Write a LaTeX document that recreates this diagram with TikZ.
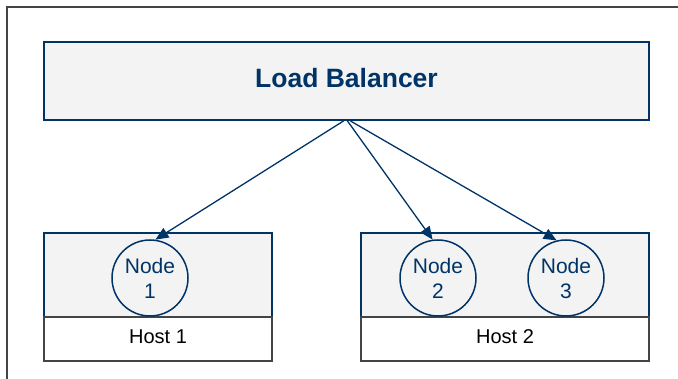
\documentclass[tikz,border=0pt]{standalone}
\usepackage{fontspec}
\setmainfont{Liberation Sans}
\usetikzlibrary{arrows.meta}
\definecolor{navy}{RGB}{0,51,102}
\definecolor{boxfill}{RGB}{243,243,243}
\definecolor{framegray}{RGB}{68,68,68}
\begin{document}
\begin{tikzpicture}[x=1pt,y=-1pt,
  lbbox/.style={draw=navy,line width=2pt,fill=boxfill,inner sep=0pt,
    minimum width=605pt,minimum height=78pt,text=navy,
    font=\fontsize{26.5}{30}\selectfont\bfseries,text depth=7pt},
  hostbox/.style={draw=navy,line width=1.5pt,fill=boxfill,inner sep=0pt,minimum height=84pt},
  labelbox/.style={draw=framegray,line width=1.5pt,fill=white,inner sep=0pt,minimum height=44pt,
    font=\fontsize{20}{23}\selectfont,text depth=5pt},
  vm/.style={circle,draw=navy,line width=1.5pt,fill=boxfill,minimum size=76pt,inner sep=0pt,
    text=navy,font=\fontsize{21}{25}\selectfont,align=center},
  link/.style={draw=navy,line width=1.3pt,-{Triangle[length=13pt,width=11pt]}},
]
\useasboundingbox (0,0) rectangle (678,379);
\draw[framegray,line width=2pt] (7,379) -- (7,7) -- (678,7);
\node[lbbox] (lb) at (346.5,81) {Load Balancer};
% Host 1
\node[hostbox,minimum width=228pt] (h1) at (158,275) {};
\node[labelbox,minimum width=228pt] (h1l) at (158,339) {Host 1};
% Host 2
\node[hostbox,minimum width=288pt] (h2) at (505,275) {};
\node[labelbox,minimum width=288pt] (h2l) at (505,339) {Host 2};
% Nodes
\node[vm] (n1) at (150,278) {Node\\1};
\node[vm] (n2) at (438,278) {Node\\2};
\node[vm] (n3) at (566,278) {Node\\3};
% Links
\coordinate (s1) at ([xshift=-3pt]lb.south);
\coordinate (s2) at ([xshift=1pt]lb.south);
\coordinate (s3) at ([xshift=4pt]lb.south);
\draw[link] (s1) -- (n1.82);
\draw[link] (s2) -- (n2.98);
\draw[link] (s3) -- (n3.104);
\end{tikzpicture}
\end{document}
